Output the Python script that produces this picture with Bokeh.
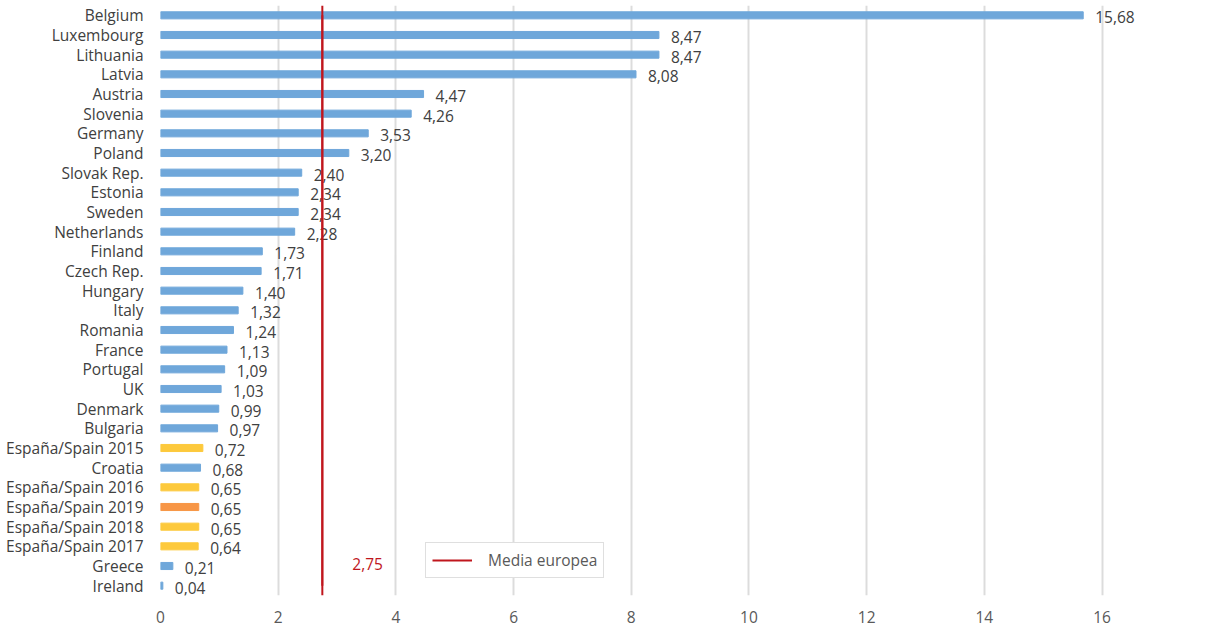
from bokeh.plotting import figure
from bokeh.models import ColumnDataSource, FactorRange, Span, Legend, LegendItem, Label
from bokeh.core.properties import value
from bokeh.embed import file_html
from bokeh.resources import INLINE

countries = ["Belgium", "Luxembourg", "Lithuania", "Latvia", "Austria", "Slovenia",
             "Germany", "Poland", "Slovak Rep.", "Estonia", "Sweden", "Netherlands",
             "Finland", "Czech Rep.", "Hungary", "Italy", "Romania", "France",
             "Portugal", "UK", "Denmark", "Bulgaria", "España/Spain 2015", "Croatia",
             "España/Spain 2016", "España/Spain 2019", "España/Spain 2018",
             "España/Spain 2017", "Greece", "Ireland"]
values = [15.68, 8.47, 8.47, 8.08, 4.47, 4.26, 3.53, 3.20, 2.40, 2.34, 2.34, 2.28,
          1.73, 1.71, 1.40, 1.32, 1.24, 1.13, 1.09, 1.03, 0.99, 0.97, 0.72, 0.68,
          0.65, 0.65, 0.65, 0.64, 0.21, 0.04]
eu_mean = 2.75
mean_label = "Media europea"
x_ticks = [0, 2, 4, 6, 8, 10, 12, 14, 16]

BLUE = "#6fa7da"
YELLOW = "#fdc93c"
ORANGE = "#f79646"
RED = "#c0161d"

def bar_color(name):
    if name == "España/Spain 2019":
        return ORANGE
    if name.startswith("España"):
        return YELLOW
    return BLUE

colors = [bar_color(c) for c in countries]
labels = [f"{v:.2f}".replace(".", ",") for v in values]

src = ColumnDataSource(dict(country=countries, val=values, color=colors, label=labels))

FONT = "Open Sans"
FS = "15.5px"
TXT = "#404040"

p = figure(width=1195, height=629, output_backend="svg", toolbar_location=None,
           y_range=FactorRange(*reversed(countries), range_padding=0),
           x_range=(0, 17.35),
           min_border_left=160, min_border_right=14, min_border_top=5, min_border_bottom=34)
p.outline_line_color = None
p.background_fill_color = "white"

p.hbar(y="country", right="val", left=0, height=0.36, color="color", source=src)

p.text(x="val", y="country", text="label", source=src, x_offset=12, y_offset=2,
       text_align="left", text_baseline="middle", text_font=value(FONT),
       text_font_size=FS, text_color=TXT)

span = Span(location=eu_mean, dimension="height", line_color=RED, line_width=2)
p.add_layout(span)
mean_line = p.line(x=[eu_mean, eu_mean], y=[countries[-1], countries[0]],
                   line_color=RED, line_width=2)

p.add_layout(Label(x=eu_mean, y=1.5, text=f"{eu_mean:.2f}".replace(".", ","),
                   x_offset=30, y_offset=2, text_baseline="middle", text_color=RED,
                   text_font=FONT, text_font_size=FS))

legend = Legend(items=[LegendItem(label=mean_label, renderers=[mean_line])],
                location=(265, 17), padding=6, glyph_width=40, glyph_height=14,
                label_standoff=16, border_line_color="#bfbfbf", border_line_width=1,
                background_fill_color="white", background_fill_alpha=1,
                label_text_font=FONT, label_text_font_size=FS, label_text_color="#595959",
                margin=0)
p.add_layout(legend)

p.xgrid.grid_line_color = "#dcdcdc"
p.xgrid.grid_line_width = 2
p.ygrid.grid_line_color = None
p.xaxis.ticker = x_ticks
p.xaxis.axis_line_color = None
p.xaxis.major_tick_line_color = None
p.xaxis.minor_tick_line_color = None
p.xaxis.major_label_standoff = 9
p.xaxis.major_label_text_font = FONT
p.xaxis.major_label_text_font_size = FS
p.xaxis.major_label_text_color = "#595959"

p.yaxis.axis_line_color = None
p.yaxis.major_tick_line_color = None
p.yaxis.major_label_standoff = 11
p.yaxis.major_label_text_font = FONT
p.yaxis.major_label_text_font_size = FS
p.yaxis.major_label_text_color = TXT

open("out.html", "w").write(file_html(p, INLINE))
